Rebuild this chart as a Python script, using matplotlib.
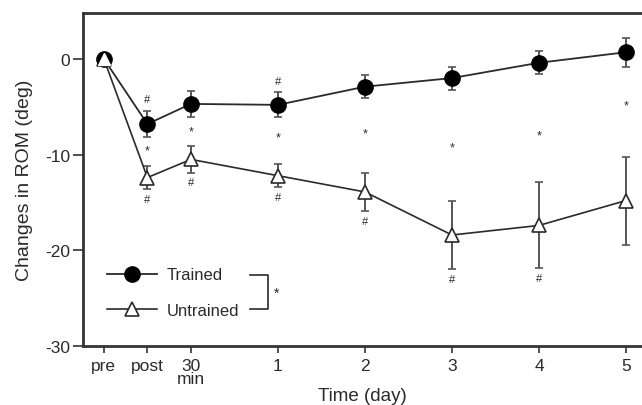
import matplotlib
matplotlib.use('Agg')
import matplotlib.pyplot as plt
from matplotlib.lines import Line2D

plt.rcParams['font.family'] = ['Liberation Sans', 'DejaVu Sans']
plt.rcParams['axes.unicode_minus'] = False

# time points: pre, post, 30 min, then days 1-5
tick_pos = [-1, -0.5, 0, 1, 2, 3, 4, 5]
tick_labels = ['pre', 'post', '30\nmin', '1', '2', '3', '4', '5']

trained = [0, -6.8, -4.7, -4.8, -2.9, -2.0, -0.4, 0.7]
trained_err = [0, 1.4, 1.4, 1.3, 1.2, 1.2, 1.2, 1.5]
untrained = [0, -12.4, -10.5, -12.2, -13.9, -18.4, -17.4, -14.8]
untrained_err = [0, 1.2, 1.4, 1.2, 2.0, 3.6, 4.5, 4.6]

# significance marks: '#' vs pre, '*' trained vs untrained
hash_above = [False, True, False, True, False, False, False, False]
hash_below = [False, True, True, True, True, True, True, False]
star_y = [None, -9.6, -7.6, -8.2, -7.8, -9.3, -8.0, -4.9]

ink = '#2a2a2a'

fig = plt.figure(figsize=(6.42, 4.06), dpi=100)
ax = fig.add_axes([83 / 642, 59 / 406, 559 / 642, 333 / 406])

ax.errorbar(tick_pos, untrained, yerr=untrained_err, color=ink, lw=1.2,
            marker='^', markersize=10, markerfacecolor='white',
            markeredgecolor=ink, markeredgewidth=1.2, ecolor='#555555',
            elinewidth=1.4, capsize=3, capthick=1.2, zorder=2)
ax.errorbar(tick_pos, trained, yerr=trained_err, color=ink, lw=1.3,
            marker='o', markersize=11, markerfacecolor='black',
            markeredgecolor='black', ecolor='#555555', elinewidth=1.4,
            capsize=3, capthick=1.2, zorder=3)
# white triangle sits on the black circle at 'pre'
ax.plot(tick_pos[0], untrained[0], marker='^', markersize=8,
        markerfacecolor='white', markeredgecolor='white', zorder=4)

for i, x in enumerate(tick_pos):
    if hash_above[i]:
        ax.text(x, trained[i] + trained_err[i] + 1.2, '#', ha='center',
                va='center', fontsize=8, color=ink)
    if hash_below[i]:
        ax.text(x, untrained[i] - untrained_err[i] - 1.0, '#', ha='center',
                va='center', fontsize=8, color=ink)
    if star_y[i] is not None:
        ax.text(x, star_y[i], '*', ha='center', va='center', fontsize=9,
                color=ink)

ax.set_xlim(-1.24, 5.184)
ax.set_ylim(-30, 4.8)
ax.set_yticks([0, -10, -20, -30])
ax.set_xticks(tick_pos)
ax.set_xticklabels(tick_labels, linespacing=0.8)

for side in ['left', 'bottom', 'top']:
    ax.spines[side].set_linewidth(2)
    ax.spines[side].set_color('#333333')
ax.spines['right'].set_visible(False)

ax.tick_params(axis='both', direction='out', length=5, width=1.2,
               colors='#333333', labelsize=12.5, labelcolor=ink)
ax.tick_params(axis='y', length=7, pad=2)
ax.tick_params(axis='x', pad=4)

ax.set_xlabel('Time (day)', fontsize=13.5, color=ink, labelpad=1)
ax.set_ylabel('Changes in ROM (deg)', fontsize=14, color=ink, labelpad=9)

handles = [
    Line2D([], [], color=ink, lw=1.3, marker='o', markersize=11,
           markerfacecolor='black', markeredgecolor='black'),
    Line2D([], [], color=ink, lw=1.2, marker='^', markersize=10,
           markerfacecolor='white', markeredgecolor=ink, markeredgewidth=1.2),
]
ax.legend(handles, ['Trained', 'Untrained'], loc='upper left',
          bbox_to_anchor=(0.043, 0.236), frameon=False, fontsize=12,
          handlelength=3.0, handletextpad=0.6, labelspacing=1.25,
          borderpad=0, borderaxespad=0, labelcolor=ink)

# bracket joining the two groups
ax.plot([0.299, 0.331, 0.331, 0.299], [0.213, 0.213, 0.111, 0.111],
        transform=ax.transAxes, color=ink, lw=1.2)
ax.text(0.347, 0.16, '*', transform=ax.transAxes, ha='center',
        va='center', fontsize=10, color=ink)

plt.savefig('out.png', dpi=100)
plt.close()
